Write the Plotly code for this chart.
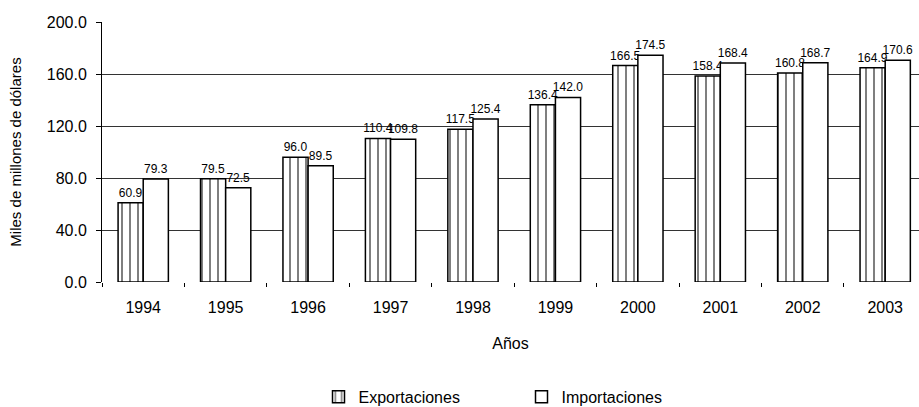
import plotly.graph_objects as go

years = ["1994", "1995", "1996", "1997", "1998", "1999", "2000", "2001", "2002", "2003"]
exportaciones = [60.9, 79.5, 96.0, 110.4, 117.5, 136.4, 166.5, 158.4, 160.8, 164.9]
importaciones = [79.3, 72.5, 89.5, 109.8, 125.4, 142.0, 174.5, 168.4, 168.7, 170.6]
y_ticks = [0, 40, 80, 120, 160, 200]

font_family = "Liberation Sans, Arial, sans-serif"

fig = go.Figure()
fig.add_trace(go.Bar(
    x=years, y=exportaciones, name="Exportaciones",
    marker=dict(color="white", line=dict(color="black", width=1.5),
                pattern=dict(shape="|", fgcolor="black", bgcolor="white", size=8, solidity=0.25)),
    text=[f"{v:.1f}" for v in exportaciones], textposition="outside", constraintext="none",
    textfont=dict(size=12, color="black", family=font_family), cliponaxis=False,
))
fig.add_trace(go.Bar(
    x=years, y=importaciones, name="Importaciones",
    marker=dict(color="white", line=dict(color="black", width=1.5)),
    text=[f"{v:.1f}" for v in importaciones], textposition="outside", constraintext="none",
    textfont=dict(size=12, color="black", family=font_family), cliponaxis=False,
))

fig.update_layout(
    width=919, height=407,
    margin=dict(l=102, r=0, t=22, b=125, autoexpand=False),
    paper_bgcolor="white", plot_bgcolor="white",
    barmode="group", bargap=0.39, bargroupgap=0,
    font=dict(family=font_family, size=13, color="black"),
    showlegend=True,
    legend=dict(orientation="h", x=0.265, xanchor="left", y=-0.442, yanchor="middle",
                font=dict(size=16), itemwidth=30, entrywidth=158, entrywidthmode="pixels"),
)
fig.update_xaxes(
    range=[-0.5, 9.41], automargin=False,
    title=dict(text="Años", font=dict(size=16), standoff=22),
    ticks="outside", tickson="boundaries", ticklen=4, tickcolor="black",
    ticklabelstandoff=14,
    showline=False, showgrid=False, tickfont=dict(size=16),
)
fig.update_yaxes(
    range=[0, 200], tickvals=y_ticks, ticktext=[f"{v:.1f}" for v in y_ticks],
    automargin=False,
    title=dict(text="Miles de millones de dólares", font=dict(size=15), standoff=21),
    showline=True, linecolor="black", linewidth=1,
    ticks="outside", ticklen=5, tickcolor="black", ticklabelstandoff=6,
    showgrid=True, gridcolor="#333333", gridwidth=1,
    zeroline=False, tickfont=dict(size=16),
)

# remove the default 8px page margin so the 919x407 figure fills the window exactly
fig.write_html(
    "out.html",
    config={"displayModeBar": False},
    post_script="document.body.style.margin='0';document.body.style.overflow='hidden';",
)
